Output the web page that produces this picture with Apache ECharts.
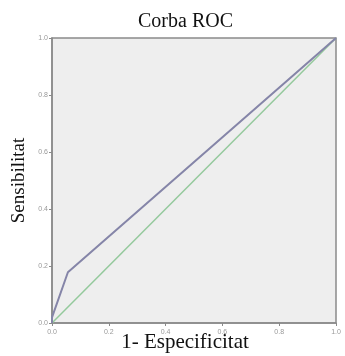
<!DOCTYPE html>
<html><head><meta charset="utf-8">
<script src="https://cdn.jsdelivr.net/npm/echarts@6/dist/echarts.min.js"></script>
<style>html,body{margin:0;padding:0;background:#fff}#c{width:345px;height:356px}</style>
</head><body><div id="c"></div>
<script>
var titleText = "Corba ROC";
var xTitle = "1- Especificitat";
var yTitle = "Sensibilitat";
var rocX = [0, 0, 0.056, 1];
var rocY = [0, 0.02, 0.178, 1];
var refX = [0, 1];
var refY = [0, 1];
var tickVals = [0, 0.2, 0.4, 0.6, 0.8, 1.0];

function pairs(xs, ys){ return xs.map(function(x,i){return [x, ys[i]];}); }

var chart = echarts.init(document.getElementById('c'), null, {renderer:'canvas'});
chart.setOption({
  animation:false,
  backgroundColor:'#ffffff',
  title:{text:titleText,left:133,top:7,textStyle:{fontFamily:'Liberation Serif',fontWeight:'normal',fontSize:20,color:'#111'}},
  grid:{left:52,right:9,top:38,bottom:33,containLabel:false,outerBoundsMode:'none',show:true,backgroundColor:'#eeeeee',borderColor:'#8a8a8a',borderWidth:1.5},
  xAxis:{type:'value',min:0,max:1,interval:0.2,
    name:xTitle,nameLocation:'middle',nameGap:9,nameMoveOverlap:false,
    nameTextStyle:{fontFamily:'Liberation Serif',fontSize:21,color:'#111',padding:[0,18,0,0]},
    axisLine:{lineStyle:{color:'#8a8a8a',width:1.5}},
    axisTick:{show:true,length:3,lineStyle:{color:'#8a8a8a'}},
    axisLabel:{fontSize:7,color:'#999',margin:6,formatter:function(v){return v.toFixed(1);}},
    splitLine:{show:false}},
  yAxis:{type:'value',min:0,max:1,interval:0.2,
    name:yTitle,nameLocation:'middle',nameGap:23,nameMoveOverlap:false,
    nameTextStyle:{fontFamily:'Liberation Serif',fontSize:19,color:'#111'},
    axisLine:{show:true,lineStyle:{color:'#8a8a8a',width:1.5}},
    axisTick:{show:true,length:3,lineStyle:{color:'#8a8a8a'}},
    axisLabel:{fontSize:7,color:'#999',margin:4,formatter:function(v){return v.toFixed(1);}},
    splitLine:{show:false}},
  series:[
    {type:'line',data:pairs(refX,refY),showSymbol:false,lineStyle:{color:'#94c99c',width:1.5},z:2},
    {type:'line',data:pairs(rocX,rocY),showSymbol:false,lineStyle:{color:'#8585a8',width:2},z:3}
  ]
});
</script></body></html>
